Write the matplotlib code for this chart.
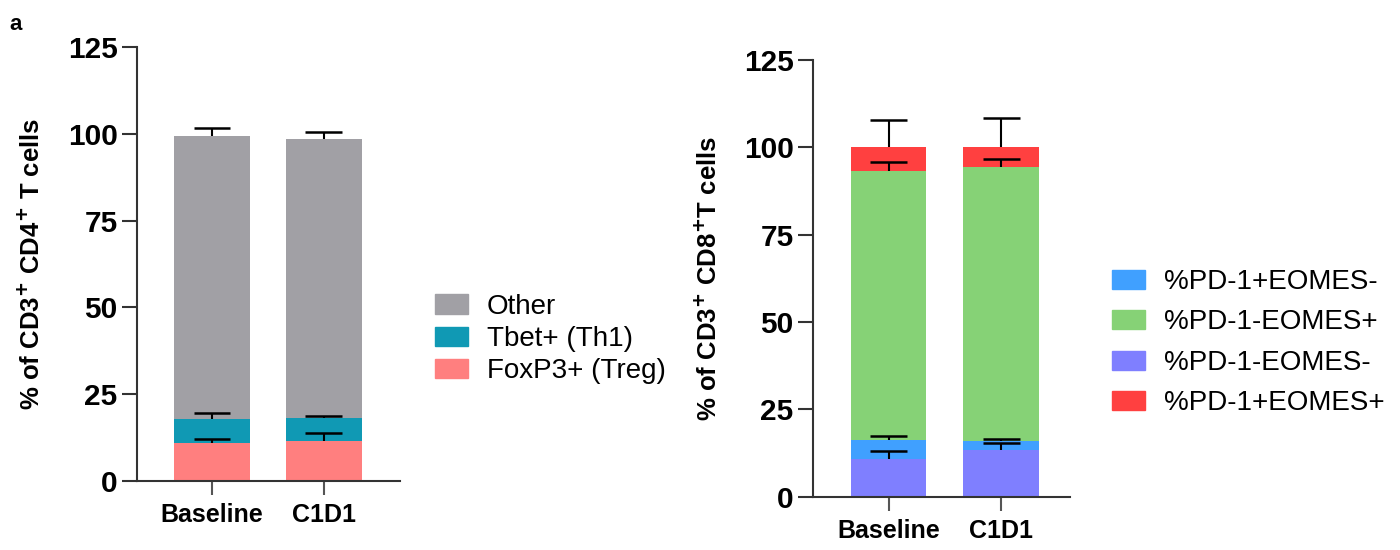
import matplotlib
matplotlib.use("Agg")
import matplotlib.pyplot as plt
import numpy as np
from matplotlib.patches import Patch

plt.rcParams['font.family'] = ['Liberation Sans', 'DejaVu Sans']

groups = ["Baseline", "C1D1"]

# Left panel (CD4)
cd4_labels = ["FoxP3+ (Treg)", "Tbet+ (Th1)", "Other"]
cd4_foxp3 = [10.8, 11.5]
cd4_tbet = [7.1, 6.7]
cd4_other = [81.5, 80.2]
cd4_foxp3_err = [1.3, 2.2]
cd4_tbet_err = [1.6, 0.5]
cd4_other_err = [2.2, 2.1]
cd4_colors = ["#FF7F7F", "#1099B4", "#A1A0A5"]

# Right panel (CD8)
cd8_labels = ["%PD-1-EOMES-", "%PD-1+EOMES-", "%PD-1-EOMES+", "%PD-1+EOMES+"]
cd8_neg_neg = [10.9, 13.4]
cd8_pos_neg = [5.3, 2.6]
cd8_neg_pos = [77.0, 78.3]
cd8_pos_pos = [6.8, 5.9]
cd8_neg_neg_err = [2.1, 1.9]
cd8_pos_neg_err = [1.3, 0.4]
cd8_neg_pos_err = [2.6, 2.4]
cd8_pos_pos_err = [7.9, 8.1]
cd8_colors = ["#7F7FFF", "#40A0FF", "#86D276", "#FF4040"]

fig = plt.figure(figsize=(14, 5.5), dpi=100)

def style_axes(ax, xlim):
    ax.set_ylim(0, 125)
    ax.set_xlim(*xlim)
    ax.set_yticks([0, 25, 50, 75, 100, 125])
    ax.set_xticks(range(len(groups)))
    ax.set_xticklabels(groups, fontsize=18, fontweight='bold')
    for lab in ax.get_yticklabels():
        lab.set_fontsize(21.5)
        lab.set_fontweight('bold')
    ax.spines['top'].set_visible(False)
    ax.spines['right'].set_visible(False)
    for s in ['left', 'bottom']:
        ax.spines[s].set_linewidth(1.5)
        ax.spines[s].set_color('#333333')
    ax.tick_params(axis='y', length=11, width=1.5, color='#333333', pad=3)
    ax.tick_params(axis='x', length=10, width=1.5, color='#555555', pad=6)

def stacked(ax, layers, errs, colors, width, capw):
    x = np.arange(len(groups))
    bottom = np.zeros(len(groups))
    for vals, err, c in zip(layers, errs, colors):
        vals = np.array(vals)
        ax.bar(x, vals, width=width, bottom=bottom, color=c, edgecolor='none', zorder=2)
        top = bottom + vals
        cap = top + np.array(err)
        ax.vlines(x, top, cap, colors='black', linewidth=1.5, zorder=3)
        ax.hlines(cap, x - capw / 2, x + capw / 2, colors='black', linewidth=1.8, zorder=3)
        bottom = top

# Left
ax1 = fig.add_axes([0.0979, 0.1255, 0.1878, 0.789])
stacked(ax1, [cd4_foxp3, cd4_tbet, cd4_other],
        [cd4_foxp3_err, cd4_tbet_err, cd4_other_err], cd4_colors, 0.68, 0.33)
style_axes(ax1, (-0.67, 1.68))
ax1.set_ylabel("% of CD3$^{\\mathbf{+}}$ CD4$^{\\mathbf{+}}$ T cells", fontsize=18.5,
               fontweight='bold')
ax1.yaxis.set_label_coords(-0.35, 0.5)
h1 = [Patch(color=c) for c in cd4_colors[::-1]]
fig.legend(h1, cd4_labels[::-1], loc='upper left', bbox_to_anchor=(0.3107, 0.466),
           frameon=False, fontsize=20, handlelength=1.19, handleheight=0.68,
           handletextpad=0.68, labelspacing=0.22, borderaxespad=0, borderpad=0)

# Right
ax2 = fig.add_axes([0.5807, 0.0969, 0.1836, 0.794])
stacked(ax2, [cd8_neg_neg, cd8_pos_neg, cd8_neg_pos, cd8_pos_pos],
        [cd8_neg_neg_err, cd8_pos_neg_err, cd8_neg_pos_err, cd8_pos_pos_err],
        cd8_colors, 0.67, 0.33)
style_axes(ax2, (-0.67, 1.61))
ax2.set_ylabel("% of CD3$^{\\mathbf{+}}$ CD8$^{\\mathbf{+}}$T cells", fontsize=18.5,
               fontweight='bold')
ax2.yaxis.set_label_coords(-0.355, 0.5)
order = [1, 2, 0, 3]
h2 = [Patch(color=cd8_colors[i]) for i in order]
l2 = [cd8_labels[i] for i in order]
fig.legend(h2, l2, loc='upper left', bbox_to_anchor=(0.794, 0.511),
           frameon=False, fontsize=20, handlelength=1.19, handleheight=0.68,
           handletextpad=0.68, labelspacing=0.52, borderaxespad=0, borderpad=0)

fig.text(0.007, 0.975, "a", fontsize=16, fontweight='bold', va='top')

fig.savefig("out.png", dpi=100)
